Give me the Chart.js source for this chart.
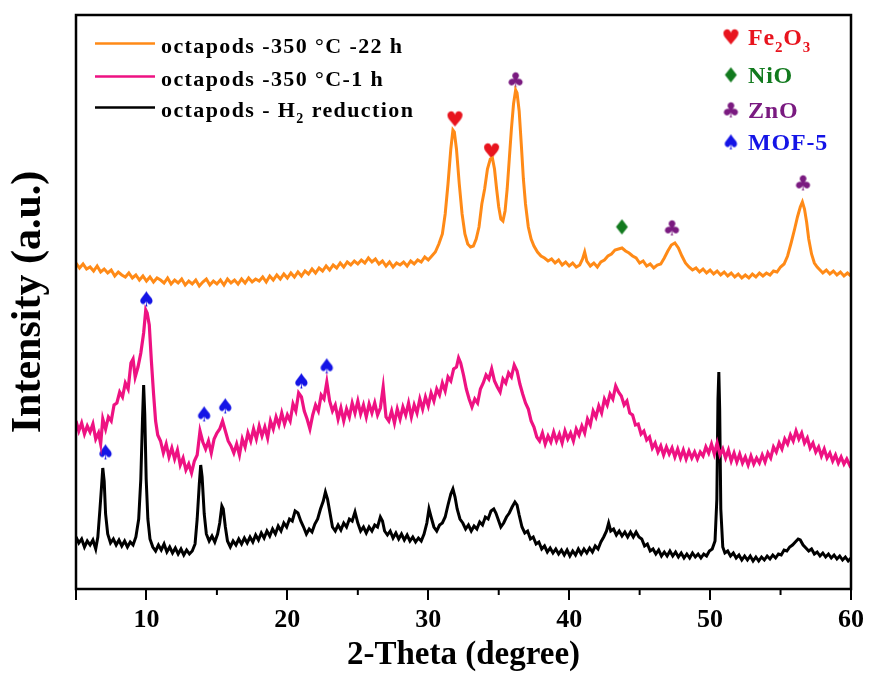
<!DOCTYPE html>
<html lang="en">
<head>
  <meta charset="UTF-8">
  <title>XRD octapods</title>
  <script src="https://cdn.jsdelivr.net/npm/chart.js"></script>
  <style>
    body { margin: 0; background: #fff; }
  </style>
</head>
<body>
  <canvas id="xrd" width="869" height="675"></canvas>

  <script>
    // 2-theta / intensity pairs (stacked, arbitrary units)
    const scan22h = [
      [5,326],[5.25,321],[5.5,325],[5.75,320],[6,322],[6.25,318],[6.5,323],[6.75,317],[7,320],[7.25,316],
      [7.5,319],[7.75,313],[8,317],[8.25,314],[8.5,312],[8.75,316],[9,311],[9.25,314],[9.5,309],[9.75,313],
      [10,308],[10.25,312],[10.5,307],[10.75,311],[11,309],[11.25,306],[11.5,311],[11.75,305],[12,309],[12.25,306],
      [12.5,310],[12.75,304],[13,308],[13.25,305],[13.5,309],[13.75,303],[14,307],[14.25,310],[14.5,304],[14.75,308],
      [15,305],[15.25,309],[15.5,304],[15.75,310],[16,306],[16.25,309],[16.5,305],[16.75,310],[17,306],[17.25,311],
      [17.5,307],[17.75,310],[18,308],[18.25,312],[18.5,307],[18.75,313],[19,309],[19.25,314],[19.5,310],[19.75,315],
      [20,311],[20.25,316],[20.5,312],[20.75,317],[21,313],[21.25,318],[21.5,315],[21.75,320],[22,316],[22.25,321],
      [22.5,318],[22.75,323],[23,319],[23.25,324],[23.5,321],[23.75,326],[24,322],[24.25,327],[24.5,324],[24.75,328],
      [25,325],[25.25,329],[25.5,326],[25.75,331],[26,327],[26.25,330],[26.5,325],[26.75,328],[27,323],[27.25,327],
      [27.5,322],[27.75,326],[28,324],[28.25,327],[28.5,323],[28.75,328],[29,325],[29.25,329],[29.5,327],[29.75,332],
      [30,329],[30.25,333],[30.5,337],[30.75,345],[31,355],[31.2,375],[31.4,405],[31.6,440],[31.75,459],[31.85,457],
      [32,440],[32.2,405],[32.4,375],[32.6,355],[32.8,345],[33,342],[33.2,343],[33.4,350],[33.6,362],[33.8,385],
      [34,400],[34.2,420],[34.4,430],[34.55,431],[34.7,420],[34.85,400],[35,382],[35.15,370],[35.3,368],[35.45,378],
      [35.6,400],[35.75,430],[35.9,460],[36.05,485],[36.2,499],[36.3,496],[36.45,478],[36.6,445],[36.75,410],[36.9,385],
      [37.1,362],[37.3,350],[37.5,343],[37.75,337],[38,333],[38.25,331],[38.5,328],[38.75,330],[39,326],[39.25,329],
      [39.5,324],[39.75,327],[40,323],[40.25,326],[40.5,322],[40.75,324],[40.95,330],[41.1,337],[41.25,328],[41.5,323],
      [41.75,326],[42,322],[42.25,327],[42.5,329],[42.75,333],[43,335],[43.25,339],[43.5,340],[43.75,341],[44,338],
      [44.25,336],[44.5,333],[44.75,331],[45,326],[45.25,328],[45.5,323],[45.75,325],[46,321],[46.25,324],[46.5,325],
      [46.75,331],[47,338],[47.25,344],[47.5,346],[47.75,341],[48,333],[48.25,326],[48.5,322],[48.75,319],[49,321],
      [49.25,317],[49.5,320],[49.75,316],[50,319],[50.25,315],[50.5,318],[50.75,314],[51,317],[51.25,313],[51.5,316],
      [51.75,312],[52,315],[52.25,311],[52.5,314],[52.75,311],[53,315],[53.25,312],[53.5,316],[53.75,313],[54,316],
      [54.25,314],[54.5,318],[54.75,317],[55,322],[55.25,325],[55.5,333],[55.75,346],[56,360],[56.2,372],[56.4,382],
      [56.55,387],[56.7,380],[56.85,367],[57,350],[57.2,335],[57.4,326],[57.6,322],[57.8,319],[58,316],[58.25,319],
      [58.5,315],[58.75,318],[59,314],[59.25,317],[59.5,313],[59.75,316],[60,313]
    ];

    const scan1h = [
      [5,168],[5.2,158],[5.4,166],[5.6,155],[5.8,163],[6,157],[6.2,165],[6.4,150],[6.6,156],[6.75,145],
      [6.9,170],[7.1,160],[7.3,172],[7.5,168],[7.7,184],[7.9,186],[8.1,197],[8.3,192],[8.5,206],[8.7,200],
      [8.9,226],[9.05,230],[9.2,212],[9.4,222],[9.6,236],[9.8,256],[9.95,279],[10.05,276],[10.2,264],[10.35,228],
      [10.5,196],[10.65,168],[10.8,154],[11,148],[11.2,136],[11.4,145],[11.6,132],[11.8,141],[12,130],[12.2,139],
      [12.4,124],[12.6,131],[12.8,119],[13,125],[13.2,116],[13.4,128],[13.6,134],[13.8,158],[14,147],[14.2,140],
      [14.4,148],[14.6,136],[14.8,150],[15,156],[15.2,160],[15.4,168],[15.6,158],[15.8,148],[16,143],[16.2,136],
      [16.4,145],[16.6,134],[16.8,150],[17,142],[17.2,156],[17.4,148],[17.6,160],[17.8,150],[18,163],[18.2,153],
      [18.4,162],[18.6,151],[18.8,168],[19,160],[19.2,172],[19.4,164],[19.6,176],[19.8,165],[20,174],[20.2,168],
      [20.4,185],[20.6,178],[20.8,196],[21,192],[21.2,178],[21.4,170],[21.6,160],[21.8,174],[22,184],[22.2,178],
      [22.4,194],[22.6,190],[22.8,207],[23,188],[23.2,178],[23.4,184],[23.6,170],[23.8,181],[24,168],[24.2,180],
      [24.4,172],[24.6,186],[24.8,176],[25,188],[25.2,175],[25.4,184],[25.6,172],[25.8,185],[26,176],[26.2,186],
      [26.4,174],[26.6,181],[26.8,202],[27,172],[27.2,168],[27.4,178],[27.6,166],[27.8,180],[28,170],[28.2,182],
      [28.4,174],[28.6,186],[28.8,172],[29,184],[29.2,176],[29.4,190],[29.6,180],[29.8,192],[30,183],[30.2,196],
      [30.4,188],[30.6,200],[30.8,194],[31,206],[31.2,198],[31.4,212],[31.6,208],[31.8,220],[32,222],[32.15,231],
      [32.3,226],[32.5,214],[32.7,200],[32.9,190],[33.1,182],[33.3,190],[33.5,186],[33.7,200],[33.9,206],[34.1,214],
      [34.3,210],[34.5,220],[34.7,208],[34.9,202],[35.1,197],[35.3,210],[35.5,206],[35.7,216],[35.9,212],[36.1,224],
      [36.3,218],[36.5,205],[36.7,195],[36.9,186],[37.1,180],[37.3,168],[37.5,162],[37.7,152],[37.9,148],[38.1,156],
      [38.3,145],[38.5,153],[38.7,147],[38.9,157],[39.1,148],[39.3,155],[39.5,146],[39.7,158],[39.9,150],[40.1,156],
      [40.3,148],[40.5,160],[40.7,154],[40.9,163],[41.1,156],[41.3,170],[41.5,164],[41.7,178],[41.9,172],[42.1,183],
      [42.3,176],[42.5,190],[42.7,184],[42.9,195],[43.1,190],[43.3,203],[43.5,197],[43.7,193],[43.9,184],[44.1,188],
      [44.3,176],[44.5,174],[44.7,164],[44.9,165],[45.1,155],[45.3,158],[45.5,149],[45.7,152],[45.9,141],[46.1,146],
      [46.3,137],[46.5,143],[46.7,134],[46.9,142],[47.1,135],[47.3,141],[47.5,132],[47.7,140],[47.9,131],[48.1,139],
      [48.3,130],[48.5,138],[48.7,131],[48.9,137],[49.1,130],[49.3,137],[49.5,133],[49.7,142],[49.9,136],[50.1,145],
      [50.3,135],[50.5,146],[50.7,134],[50.9,140],[51.1,131],[51.3,139],[51.5,128],[51.7,136],[51.9,127],[52.1,135],
      [52.3,126],[52.5,132],[52.7,124],[52.9,133],[53.1,125],[53.3,131],[53.5,126],[53.7,134],[53.9,127],[54.1,136],
      [54.3,131],[54.5,142],[54.7,137],[54.9,146],[55.1,140],[55.3,150],[55.5,145],[55.7,154],[55.9,148],[56.1,158],
      [56.3,150],[56.5,156],[56.7,146],[56.9,151],[57.1,141],[57.3,146],[57.5,137],[57.7,142],[57.9,133],[58.1,140],
      [58.3,131],[58.5,136],[58.7,128],[58.9,134],[59.1,126],[59.3,132],[59.5,125],[59.7,130],[59.9,124],[60,127]
    ];

    const scanH2 = [
      [5,52],[5.2,46],[5.4,50],[5.6,42],[5.8,48],[6,44],[6.2,49],[6.4,40],[6.55,52],[6.7,80],
      [6.8,100],[6.9,121],[7,108],[7.1,75],[7.25,55],[7.45,46],[7.65,50],[7.85,44],[8.05,49],[8.25,43],
      [8.45,48],[8.65,42],[8.85,47],[9.05,44],[9.25,52],[9.45,70],[9.6,110],[9.72,170],[9.8,204],[9.88,175],
      [9.98,110],[10.1,70],[10.25,50],[10.45,42],[10.65,38],[10.85,44],[11.05,39],[11.25,45],[11.45,37],[11.65,42],
      [11.85,36],[12.05,41],[12.25,35],[12.45,40],[12.65,34],[12.85,39],[13.05,35],[13.25,38],[13.45,45],[13.6,70],
      [13.75,105],[13.85,124],[13.95,112],[14.1,75],[14.25,55],[14.45,48],[14.65,53],[14.85,47],[15.05,55],[15.2,66],
      [15.35,83],[15.45,80],[15.6,62],[15.75,48],[15.95,42],[16.15,48],[16.35,44],[16.55,50],[16.75,45],[16.95,51],
      [17.15,46],[17.35,52],[17.55,47],[17.75,54],[17.95,49],[18.15,56],[18.35,51],[18.55,58],[18.75,53],[18.95,60],
      [19.15,55],[19.35,63],[19.55,58],[19.75,66],[19.95,62],[20.15,70],[20.35,68],[20.55,78],[20.75,76],[20.95,68],
      [21.15,62],[21.35,55],[21.55,60],[21.75,57],[21.95,65],[22.15,70],[22.35,80],[22.55,88],[22.7,97],[22.85,90],
      [23,78],[23.2,62],[23.4,58],[23.6,64],[23.8,59],[24,66],[24.2,62],[24.4,70],[24.6,68],[24.8,77],
      [25,66],[25.2,58],[25.4,62],[25.6,56],[25.8,62],[26,58],[26.2,64],[26.4,62],[26.6,72],[26.75,68],
      [26.9,58],[27.1,54],[27.3,58],[27.5,51],[27.7,56],[27.9,50],[28.1,55],[28.3,49],[28.5,54],[28.7,48],
      [28.9,52],[29.1,47],[29.3,51],[29.5,48],[29.7,55],[29.9,66],[30.05,80],[30.2,72],[30.4,62],[30.6,58],
      [30.8,64],[31,66],[31.2,72],[31.4,84],[31.6,95],[31.75,100],[31.9,92],[32.05,80],[32.25,70],[32.45,66],
      [32.65,60],[32.85,64],[33.05,58],[33.25,63],[33.45,60],[33.65,67],[33.85,64],[34.05,72],[34.25,70],[34.45,78],
      [34.65,80],[34.8,76],[34.95,70],[35.15,62],[35.35,66],[35.55,72],[35.75,76],[35.95,82],[36.15,87],[36.3,84],
      [36.45,74],[36.65,62],[36.85,56],[37.05,58],[37.25,50],[37.45,52],[37.65,45],[37.85,47],[38.05,40],[38.25,43],
      [38.45,37],[38.65,41],[38.85,36],[39.05,40],[39.25,35],[39.45,39],[39.65,34],[39.85,39],[40.05,33],[40.25,38],
      [40.45,34],[40.65,40],[40.85,35],[41.05,40],[41.25,36],[41.45,41],[41.65,37],[41.85,43],[42.05,40],[42.25,47],
      [42.45,52],[42.65,58],[42.8,66],[42.95,58],[43.15,60],[43.35,54],[43.55,58],[43.75,53],[43.95,57],[44.15,52],
      [44.35,57],[44.55,52],[44.75,57],[44.95,52],[45.15,50],[45.35,43],[45.55,45],[45.75,38],[45.95,40],[46.15,35],
      [46.35,39],[46.55,33],[46.75,37],[46.95,33],[47.15,38],[47.35,33],[47.55,37],[47.75,32],[47.95,36],[48.15,31],
      [48.35,35],[48.55,31],[48.75,36],[48.95,32],[49.15,35],[49.35,31],[49.55,35],[49.75,33],[49.95,38],[50.15,40],
      [50.35,48],[50.48,90],[50.56,190],[50.62,217],[50.68,180],[50.76,80],[50.9,42],[51.05,36],[51.25,38],[51.45,33],
      [51.65,36],[51.85,31],[52.05,34],[52.25,29],[52.45,33],[52.65,29],[52.85,33],[53.05,28],[53.25,32],[53.45,28],
      [53.65,32],[53.85,29],[54.05,33],[54.25,30],[54.45,34],[54.65,31],[54.85,35],[55.05,34],[55.25,39],[55.45,38],
      [55.65,42],[55.85,44],[56.05,47],[56.25,50],[56.4,49],[56.6,44],[56.8,41],[57,38],[57.2,40],[57.4,35],
      [57.6,37],[57.8,33],[58,36],[58.2,32],[58.4,35],[58.6,31],[58.8,34],[59,30],[59.2,33],[59.4,29],
      [59.6,32],[59.8,28],[60,31]
    ];

    // phase markers above the reflections
    const fe2o3Peaks = [[31.9, 469], [34.5, 437]];
    const nioPeaks = [[43.75, 361]];
    const znoPeaks = [[36.2, 508], [47.3, 360], [56.6, 405]];
    const mof5Peaks = [[7.1, 136], [10.0, 289], [14.1, 174], [15.6, 182], [21.0, 207], [22.8, 222]];

    const seriesLabels = [
      [['octapods -350 °C -22 h', 0]],
      [['octapods -350 °C-1 h', 0]],
      [['octapods - H', 0], ['2', 1], [' reduction', 0]]
    ];
    const seriesColors = ['#FF8A17', '#EE1282', '#000000'];

    const phaseKey = [
      { glyph: '\u2665', color: '#E8141E', parts: [['Fe', 0], ['2', 1], ['O', 0], ['3', 1]] },
      { glyph: '\u2666', color: '#127A1E', parts: [['NiO', 0]] },
      { glyph: '\u2663', color: '#7A1A80', parts: [['ZnO', 0]] },
      { glyph: '\u2660', color: '#1414E6', parts: [['MOF-5', 0]] }
    ];

    const serif = '"Liberation Serif", "Times New Roman", serif';

    function glyphImage(ch, color, size) {
      const c = document.createElement('canvas');
      c.width = size + 4;
      c.height = size + 4;
      const g = c.getContext('2d');
      g.fillStyle = color;
      g.font = size + 'px "DejaVu Sans"';
      g.textAlign = 'center';
      g.textBaseline = 'middle';
      g.fillText(ch, c.width / 2, c.height / 2 + 1);
      return c;
    }

    const marks = phaseKey.map(p => glyphImage(p.glyph, p.color, 21));

    // text with subscripts
    function drawRich(ctx, x, y, parts, size, spacing) {
      ctx.letterSpacing = spacing + 'px';
      for (const [txt, sub] of parts) {
        if (sub) {
          ctx.font = 'bold ' + Math.round(size * 0.62) + 'px ' + serif;
          ctx.fillText(txt, x, y + size * 0.28);
        } else {
          ctx.font = 'bold ' + size + 'px ' + serif;
          ctx.fillText(txt, x, y);
        }
        x += ctx.measureText(txt).width;
      }
      ctx.letterSpacing = '0px';
    }

    const framePlugin = {
      id: 'frame',
      afterDraw(chart) {
        const { ctx, chartArea: a, scales } = chart;
        ctx.save();
        ctx.strokeStyle = '#000';
        ctx.lineWidth = 2.5;
        ctx.strokeRect(a.left, a.top, a.right - a.left, a.bottom - a.top);
        // minor ticks
        ctx.lineWidth = 2;
        for (let v = 15; v < 60; v += 10) {
          const px = scales.x.getPixelForValue(v);
          ctx.beginPath();
          ctx.moveTo(px, a.bottom);
          ctx.lineTo(px, a.bottom + 6);
          ctx.stroke();
        }

        // series key, top left
        ctx.textBaseline = 'alphabetic';
        const rows = [53, 86, 117];
        rows.forEach((by, i) => {
          ctx.strokeStyle = chart.data.datasets[i].borderColor;
          ctx.lineWidth = 2.5;
          ctx.beginPath();
          ctx.moveTo(95, by - 9.5);
          ctx.lineTo(155, by - 9.5);
          ctx.stroke();
          ctx.fillStyle = '#000';
          drawRich(ctx, 161, by, seriesLabels[i], 22, 1.4);
        });

        // phase key, top right
        const keyRows = [45, 83, 118, 150];
        phaseKey.forEach((p, i) => {
          const m = marks[i];
          ctx.drawImage(m, 731 - m.width / 2, keyRows[i] - 7 - m.height / 2);
          ctx.fillStyle = p.color;
          drawRich(ctx, 748, keyRows[i], p.parts, 24, 0.8);
        });
        ctx.restore();
      }
    };

    function lineSet(pairs, color, width) {
      return {
        type: 'line',
        data: pairs.map(([x, y]) => ({ x, y })),
        borderColor: color,
        borderWidth: width,
        pointRadius: 0,
        tension: 0,
        fill: false
      };
    }

    function markSet(pairs, img) {
      return {
        type: 'scatter',
        data: pairs.map(([x, y]) => ({ x, y })),
        pointStyle: img,
        pointRadius: 9,
        borderWidth: 0
      };
    }

    const ctx = document.getElementById('xrd').getContext('2d');
    new Chart(ctx, {
      data: {
        datasets: [
          lineSet(scan22h, seriesColors[0], 3),
          lineSet(scan1h, seriesColors[1], 3.2),
          lineSet(scanH2, seriesColors[2], 3),
          markSet(fe2o3Peaks, marks[0]),
          markSet(nioPeaks, marks[1]),
          markSet(znoPeaks, marks[2]),
          markSet(mof5Peaks, marks[3])
        ]
      },
      options: {
        responsive: false,
        animation: false,
        layout: { padding: { top: 15, right: 18, left: 0, bottom: 0 } },
        plugins: {
          legend: { display: false },
          tooltip: { enabled: false }
        },
        scales: {
          x: {
            type: 'linear',
            min: 5,
            max: 60,
            afterFit: s => { s.height = 86; },
            grid: { drawOnChartArea: false, color: '#000', lineWidth: 2, tickLength: 11 },
            border: { display: false },
            ticks: {
              stepSize: 10,
              color: '#000',
              padding: 5,
              font: { family: serif, size: 26, weight: 'bold' },
              callback: v => (v % 10 === 0 ? v : '')
            },
            title: {
              display: true,
              text: '2-Theta (degree)',
              color: '#000',
              padding: { top: 0, bottom: 0 },
              font: { family: serif, size: 33, weight: 'bold' }
            }
          },
          y: {
            min: 0,
            max: 574,
            afterFit: s => { s.width = 76; },
            grid: { display: false },
            border: { display: false },
            ticks: { display: false },
            title: {
              display: true,
              text: 'Intensity (a.u.)',
              color: '#000',
              padding: { top: 4, bottom: 0 },
              font: { family: serif, size: 42, weight: 'bold' }
            }
          }
        }
      },
      plugins: [framePlugin]
    });
  </script>
</body>
</html>
